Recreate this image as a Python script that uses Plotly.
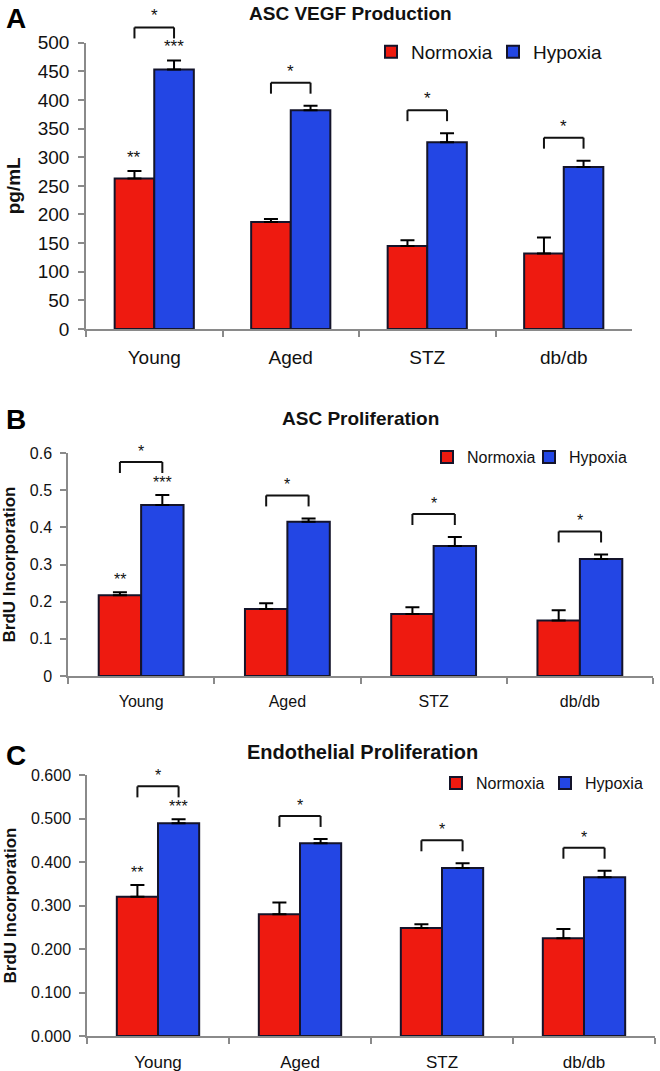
import plotly.graph_objects as go

# ---------------- data ----------------
categories = ["Young", "Aged", "STZ", "db/db"]
series_names = ["Normoxia", "Hypoxia"]

vegf_normoxia = [263, 187, 145, 132]
vegf_normoxia_err = [13, 5, 10, 28]
vegf_hypoxia = [453, 382, 326, 283]
vegf_hypoxia_err = [16, 8, 16, 11]

asc_normoxia = [0.217, 0.180, 0.167, 0.149]
asc_normoxia_err = [0.008, 0.016, 0.018, 0.028]
asc_hypoxia = [0.460, 0.415, 0.350, 0.315]
asc_hypoxia_err = [0.027, 0.009, 0.024, 0.012]

endo_normoxia = [0.320, 0.280, 0.248, 0.225]
endo_normoxia_err = [0.027, 0.027, 0.009, 0.021]
endo_hypoxia = [0.489, 0.443, 0.386, 0.365]
endo_hypoxia_err = [0.009, 0.010, 0.011, 0.015]

sig_normoxia = ["**", "", "", ""]
sig_hypoxia = ["***", "", "", ""]
sig_pair = ["*", "*", "*", "*"]

panel_letters = ["A", "B", "C"]
panel_titles = ["ASC VEGF Production", "ASC Proliferation", "Endothelial Proliferation"]
y_titles = ["pg/mL", "BrdU Incorporation", "BrdU Incorporation"]

vegf_ticks = [0, 50, 100, 150, 200, 250, 300, 350, 400, 450, 500]
vegf_ticktext = ["0", "50", "100", "150", "200", "250", "300", "350", "400", "450", "500"]
asc_ticks = [0, 0.1, 0.2, 0.3, 0.4, 0.5, 0.6]
asc_ticktext = ["0", "0.1", "0.2", "0.3", "0.4", "0.5", "0.6"]
endo_ticks = [0, 0.1, 0.2, 0.3, 0.4, 0.5, 0.6]
endo_ticktext = ["0.000", "0.100", "0.200", "0.300", "0.400", "0.500", "0.600"]

# ---------------- style / layout ----------------
W, H = 660, 1071
FONT = "Arial, 'Liberation Sans', Helvetica, sans-serif"
RED = "#EE1A10"
BLUE = "#2346E4"
EDGE = "#14142a"
GREY = "#8a8a8a"
BARGAP = 0.42

panels = [
    dict(data=(vegf_normoxia, vegf_normoxia_err, vegf_hypoxia, vegf_hypoxia_err),
         ticks=(vegf_ticks, vegf_ticktext), ymax=500,
         left=86, right=632, top=42.7, bottom=329,
         tick_font=19, cat_font=19, title_font=19, legend_font=19, ytitle_font=19,
         title_x=350, title_y=14, letter_y=18, legend_x=371, legend_y=52, entry=77,
         ytitle_standoff=12, star_font=17),
    dict(data=(asc_normoxia, asc_normoxia_err, asc_hypoxia, asc_hypoxia_err),
         ticks=(asc_ticks, asc_ticktext), ymax=0.6,
         left=68, right=653, top=453, bottom=676,
         tick_font=16, cat_font=16, title_font=19, legend_font=16, ytitle_font=17,
         title_x=360, title_y=419, letter_y=420, legend_x=427, legend_y=457, entry=57,
         ytitle_standoff=12, star_font=16),
    dict(data=(endo_normoxia, endo_normoxia_err, endo_hypoxia, endo_hypoxia_err),
         ticks=(endo_ticks, endo_ticktext), ymax=0.6,
         left=87, right=655, top=775, bottom=1036,
         tick_font=16, cat_font=17, title_font=20, legend_font=16, ytitle_font=17,
         title_x=362, title_y=752, letter_y=755, legend_x=436, legend_y=783, entry=64,
         ytitle_standoff=10, star_font=16),
]

fig = go.Figure()
shapes = []
annotations = []
layout = {}

half = (1 - BARGAP) / 4  # bar centre offset in category units
ncat = len(categories)

for k, p in enumerate(panels):
    sfx = "" if k == 0 else str(k + 1)
    xa, ya = "x" + sfx, "y" + sfx
    lg = "legend" + sfx
    n_vals, n_err, h_vals, h_err = p["data"]

    for name, vals, errs, color in [(series_names[0], n_vals, n_err, RED),
                                    (series_names[1], h_vals, h_err, BLUE)]:
        fig.add_trace(go.Bar(
            x=categories, y=vals, name=name,
            marker=dict(color=color, line=dict(color=EDGE, width=2)),
            error_y=dict(type="data", symmetric=False, array=errs,
                         arrayminus=[0] * len(errs), color="black",
                         thickness=2, width=7),
            xaxis=xa, yaxis=ya, legend=lg, showlegend=True,
        ))

    plot_h = p["bottom"] - p["top"]
    ppu = plot_h / p["ymax"]  # pixels per data unit
    tickvals, ticktext = p["ticks"]

    layout["xaxis" + sfx] = dict(
        domain=[p["left"] / W, p["right"] / W], anchor=ya, type="category",
        range=[-0.5, ncat - 0.5], tickson="boundaries",
        ticks="outside", ticklen=6, tickcolor=GREY, tickwidth=1.5,
        showline=True, linecolor=GREY, linewidth=1.5, showgrid=False,
        zeroline=False, ticklabelstandoff=10, automargin=False,
        tickfont=dict(family=FONT, size=p["cat_font"], color="#111"),
    )
    layout["yaxis" + sfx] = dict(
        domain=[1 - p["bottom"] / H, 1 - p["top"] / H], anchor=xa,
        range=[0, p["ymax"]], tickvals=tickvals, ticktext=ticktext,
        ticks="outside", ticklen=6, tickcolor=GREY, tickwidth=1.5,
        showline=True, linecolor=GREY, linewidth=1.5, showgrid=False,
        zeroline=False, ticklabelstandoff=5, automargin=False,
        tickfont=dict(family=FONT, size=p["tick_font"], color="#111"),
        title=dict(text="<b>" + y_titles[k] + "</b>", standoff=p["ytitle_standoff"],
                   font=dict(family=FONT, size=p["ytitle_font"], color="#111")),
    )
    layout[lg] = dict(
        orientation="h", x=p["legend_x"] / W, y=1 - p["legend_y"] / H,
        xanchor="left", yanchor="middle", bgcolor="rgba(0,0,0,0)",
        entrywidth=p["entry"], entrywidthmode="pixels",
        font=dict(family=FONT, size=p["legend_font"], color="#111"),
    )

    # panel letter and title
    annotations.append(dict(
        text="<b>" + panel_letters[k] + "</b>", xref="paper", yref="paper",
        x=4 / W, y=1 - p["letter_y"] / H, xanchor="left", yanchor="middle",
        showarrow=False, font=dict(family=FONT, size=28, color="#000")))
    annotations.append(dict(
        text="<b>" + panel_titles[k] + "</b>", xref="paper", yref="paper",
        x=p["title_x"] / W, y=1 - p["title_y"] / H, xanchor="center", yanchor="middle",
        showarrow=False, font=dict(family=FONT, size=p["title_font"], color="#111")))

    # significance brackets and asterisks (domain refs so they are not clipped)
    def fx(v):
        return (v + 0.5) / ncat

    def fy(v, ymax=p["ymax"]):
        return v / ymax

    for i in range(ncat):
        n_top = n_vals[i] + n_err[i]
        h_top = h_vals[i] + h_err[i]
        gap_px = 12 + (10 if sig_hypoxia[i] else 0)
        b0 = h_top + gap_px / ppu
        b1 = b0 + 11 / ppu
        x0, x1 = i - half, i + half
        for (ax0, ay0, ax1, ay1) in [(x0, b0, x0, b1), (x0, b1, x1, b1), (x1, b1, x1, b0)]:
            shapes.append(dict(type="line", xref=xa + " domain", yref=ya + " domain",
                               x0=fx(ax0), y0=fy(ay0), x1=fx(ax1), y1=fy(ay1),
                               line=dict(color="#111", width=2)))
        if sig_pair[i]:
            annotations.append(dict(
                text=sig_pair[i], xref=xa + " domain", yref=ya + " domain",
                x=fx(i), y=fy(b1), xanchor="center",
                yanchor="bottom", showarrow=False,
                font=dict(family=FONT, size=p["star_font"], color="#111")))
        if sig_normoxia[i]:
            annotations.append(dict(
                text=sig_normoxia[i], xref=xa + " domain", yref=ya + " domain",
                x=fx(i - half), y=fy(n_top + 2 / ppu),
                xanchor="center", yanchor="bottom", showarrow=False,
                font=dict(family=FONT, size=p["star_font"], color="#111")))
        if sig_hypoxia[i]:
            annotations.append(dict(
                text=sig_hypoxia[i], xref=xa + " domain", yref=ya + " domain",
                x=fx(i + half), y=fy(h_top + 2 / ppu),
                xanchor="center", yanchor="bottom", showarrow=False,
                font=dict(family=FONT, size=p["star_font"], color="#111")))

fig.update_layout(
    width=W, height=H, margin=dict(l=0, r=0, t=0, b=0, autoexpand=False),
    paper_bgcolor="white", plot_bgcolor="white",
    barmode="group", bargap=BARGAP, bargroupgap=0,
    shapes=shapes, annotations=annotations,
    font=dict(family=FONT, color="#111"),
    **layout,
)

# remove the default page margin so the 660x1071 figure fills the window exactly
fig.write_html(
    "out.html",
    config={"displayModeBar": False},
    post_script="document.body.style.margin='0px';document.body.style.overflow='hidden';",
)
